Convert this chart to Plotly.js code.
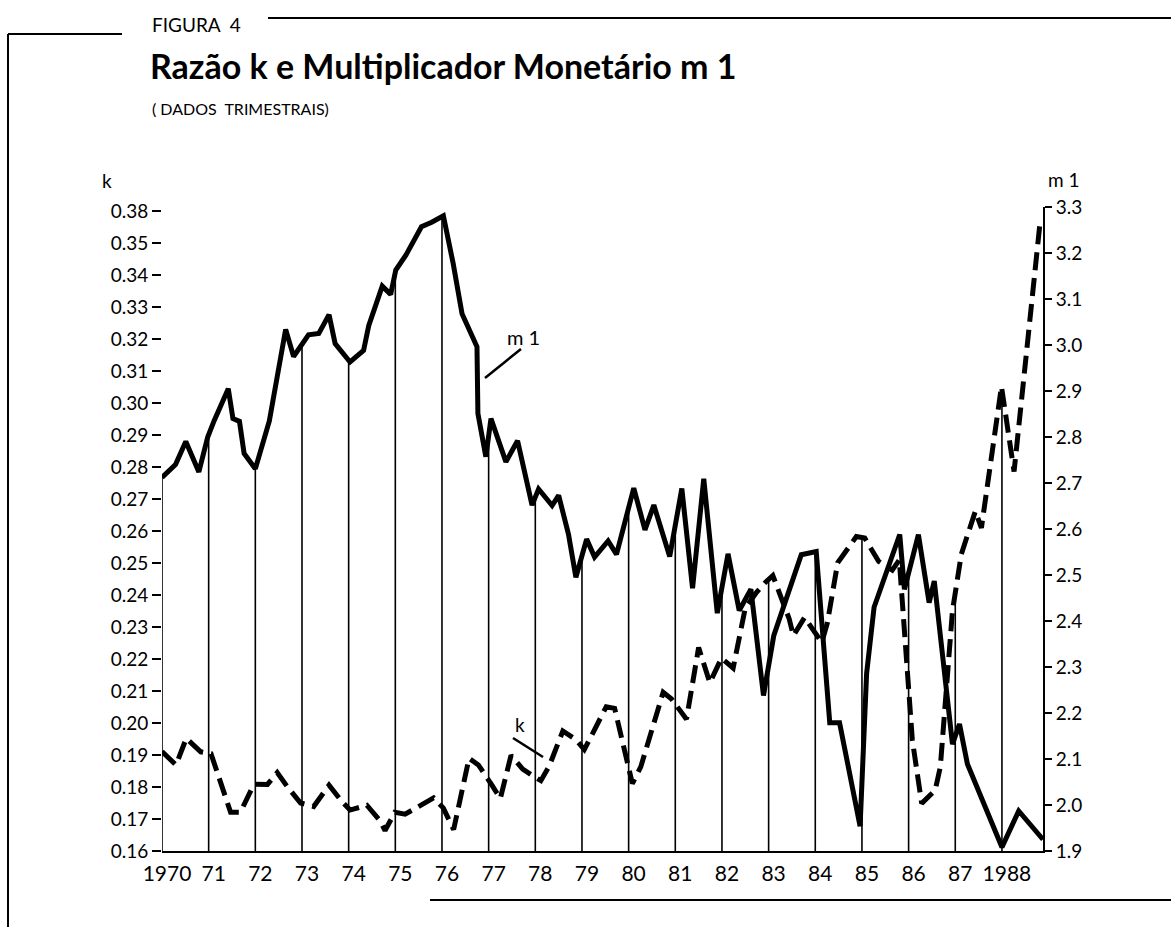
<!DOCTYPE html>
<html><head><meta charset="utf-8">
<script src="https://cdn.plot.ly/plotly-3.0.1.min.js"></script>
<style>html,body{margin:0;padding:0;background:#fff;} #chart{width:1171px;height:927px;}</style>
</head><body><div id="chart"></div>
<script>
// m1 (solid, right axis) - vertices
const m1Time=[1970.00,1970.29,1970.51,1970.79,1970.98,1971.12,1971.42,1971.52,1971.66,1971.76,1972.00,1972.30,1972.65,1972.82,1973.14,1973.36,1973.58,1973.71,1974.03,1974.32,1974.43,1974.72,1974.90,1975.01,1975.23,1975.56,1975.78,1976.03,1976.24,1976.43,1976.75,1976.77,1976.94,1977.05,1977.37,1977.62,1977.93,1978.07,1978.36,1978.50,1978.71,1978.87,1979.10,1979.27,1979.56,1979.74,1980.11,1980.35,1980.54,1980.88,1981.14,1981.37,1981.61,1981.90,1982.13,1982.37,1982.62,1982.89,1983.11,1983.70,1984.02,1984.31,1984.52,1984.96,1985.10,1985.26,1985.81,1985.91,1986.21,1986.44,1986.55,1986.94,1987.09,1987.26,1988.00,1988.36,1988.88];
const m1Value=[2.712,2.740,2.790,2.724,2.800,2.836,2.905,2.840,2.834,2.764,2.731,2.835,3.034,2.975,3.022,3.025,3.066,3.003,2.963,2.988,3.042,3.128,3.110,3.163,3.196,3.257,3.267,3.281,3.177,3.068,2.996,2.851,2.757,2.840,2.746,2.792,2.652,2.687,2.651,2.673,2.589,2.495,2.578,2.539,2.574,2.545,2.689,2.598,2.652,2.540,2.688,2.471,2.709,2.417,2.546,2.423,2.469,2.238,2.368,2.544,2.551,2.179,2.179,1.954,2.286,2.430,2.588,2.469,2.588,2.440,2.487,2.132,2.176,2.089,1.908,1.987,1.925];
// k (dashed, left axis)
const kTime=[1970.00,1970.30,1970.52,1970.83,1971.05,1971.47,1971.68,1971.97,1972.26,1972.47,1972.68,1972.97,1973.25,1973.58,1973.86,1974.03,1974.39,1974.67,1974.78,1974.99,1975.21,1975.82,1976.03,1976.25,1976.58,1976.78,1977.07,1977.25,1977.48,1977.73,1977.94,1978.12,1978.30,1978.59,1978.87,1979.05,1979.23,1979.52,1979.70,1980.08,1980.26,1980.74,1980.92,1981.24,1981.50,1981.64,1981.74,1981.99,1982.24,1982.50,1982.75,1982.94,1983.09,1983.44,1983.53,1983.77,1983.90,1984.14,1984.26,1984.48,1984.88,1985.06,1985.36,1985.65,1985.80,1985.99,1986.08,1986.28,1986.57,1986.68,1986.94,1987.13,1987.35,1987.43,1987.56,1987.99,1988.26,1988.81];
const kValue=[0.1911,0.1869,0.1952,0.1910,0.1904,0.1721,0.1721,0.1809,0.1808,0.1845,0.1802,0.1750,0.1739,0.1806,0.1754,0.1728,0.1743,0.1695,0.1664,0.1721,0.1715,0.1766,0.1734,0.1667,0.1890,0.1869,0.1806,0.1764,0.1899,0.1856,0.1836,0.1820,0.1866,0.1975,0.1948,0.1917,0.1968,0.2051,0.2046,0.1811,0.1863,0.2096,0.2075,0.2012,0.2236,0.2173,0.2126,0.2203,0.2172,0.2360,0.2410,0.2441,0.2461,0.2326,0.2273,0.2330,0.2304,0.2252,0.2314,0.2501,0.2583,0.2578,0.2505,0.2478,0.2510,0.2114,0.1947,0.1749,0.1790,0.1863,0.2351,0.2528,0.2621,0.2662,0.2610,0.3052,0.2786,0.3555];

const yearTicks=[1970,1971,1972,1973,1974,1975,1976,1977,1978,1979,1980,1981,1982,1983,1984,1985,1986,1987,1988];
const yearLabels=['1970','71','72','73','74','75','76','77','78','79','80','81','82','83','84','85','86','87','1988'];
const kTicks=[0.16,0.17,0.18,0.19,0.20,0.21,0.22,0.23,0.24,0.25,0.26,0.27,0.28,0.29,0.30,0.31,0.32,0.33,0.34,0.35,0.36];
const kTickLabels=['0.16','0.17','0.18','0.19','0.20','0.21','0.22','0.23','0.24','0.25','0.26','0.27','0.28','0.29','0.30','0.31','0.32','0.33','0.34','0.35','0.38'];
const m1Ticks=[1.9,2.0,2.1,2.2,2.3,2.4,2.5,2.6,2.7,2.8,2.9,3.0,3.1,3.2,3.3];
const m1TickLabels=['1.9','2.0','2.1','2.2','2.3','2.4','2.5','2.6','2.7','2.8','2.9','3.0','3.1','3.2','3.3'];

const W=1171,H=927,L=162,R=1043,T=207,B=851;
const kRange=[0.16,0.3613], m1Range=[1.9,3.3], xRange=[1970,1988.88];
const FONT='Lato, "Open Sans", sans-serif';

function interp(ts,vs,t){
  if(t<=ts[0])return vs[0];
  for(let i=1;i<ts.length;i++){ if(t<=ts[i]){const f=(t-ts[i-1])/(ts[i]-ts[i-1]);return vs[i-1]+f*(vs[i]-vs[i-1]);} }
  return vs[vs.length-1];
}
const px=x=>(x-L)/(R-L), py=y=>(B-y)/(B-T);

const shapes=[];
yearTicks.forEach(yr=>{
  const fm=(interp(m1Time,m1Value,yr)-m1Range[0])/(m1Range[1]-m1Range[0]);
  const fk=(interp(kTime,kValue,yr)-kRange[0])/(kRange[1]-kRange[0]);
  shapes.push({type:'line',xref:'x',yref:'paper',x0:yr,x1:yr,y0:0,y1:Math.max(fm,fk),line:{color:'#000',width:1.6}});
});
function seg(x0,y0,x1,y1,w){shapes.push({type:'line',xref:'paper',yref:'paper',x0:px(x0),y0:py(y0),x1:px(x1),y1:py(y1),line:{color:'#000',width:w}});}
// frame
seg(8,34,8,927,2); seg(8,34,122,34,2); seg(268,18,1171,18,2); seg(430,900,1171,900,2);
// pointer strokes
seg(521,349,485,378,2.5); seg(513,738,543,757,2.5);

function ann(text,x,y,size,opts){return Object.assign({text:text,xref:'paper',yref:'paper',x:px(x),y:py(y),xanchor:'left',yanchor:'middle',showarrow:false,font:{family:FONT,size:size,color:'#000'}},opts||{});}
const annotations=[
  ann('FIGURA  4',150,24,19),
  ann('<b>Razão k e Multiplicador Monetário m 1</b>',148,66,34),
  ann('( DADOS  TRIMESTRAIS)',150,108,16),
  ann('k',100,180,19),
  ann('m 1',1046,179,19),
  ann('m 1',505,337,20),
  ann('k',513,724,19)
];

const traces=[
  {x:m1Time,y:m1Value,yaxis:'y2',type:'scatter',mode:'lines',line:{color:'#000',width:5},name:'m1'},
  {x:kTime,y:kValue,yaxis:'y',type:'scatter',mode:'lines',line:{color:'#000',width:5,dash:'18px,8px'},name:'k'}
];
const layout={
  width:W,height:H,paper_bgcolor:'#fff',plot_bgcolor:'#fff',showlegend:false,
  margin:{l:L,r:W-R,t:T,b:H-B,pad:0},
  font:{family:FONT,color:'#000'},
  xaxis:{range:xRange,tickvals:yearTicks,ticktext:yearLabels,tickangle:0,showgrid:false,zeroline:false,showline:true,linecolor:'#000',linewidth:2,ticks:'',tickfont:{size:21,family:FONT},ticklabelshift:5,ticklabelstandoff:3},
  yaxis:{range:kRange,tickvals:kTicks,ticktext:kTickLabels,showgrid:false,zeroline:false,showline:false,ticks:'outside',ticklen:9,tickwidth:2,tickcolor:'#000',tickfont:{size:19,family:FONT}},
  yaxis2:{range:m1Range,overlaying:'y',side:'right',tickvals:m1Ticks,ticktext:m1TickLabels,showgrid:false,zeroline:false,showline:true,linecolor:'#000',linewidth:2,ticks:'outside',ticklen:7,tickwidth:2,tickcolor:'#000',tickfont:{size:19,family:FONT}},
  shapes:shapes,annotations:annotations
};
Plotly.newPlot('chart',traces,layout,{staticPlot:true,displayModeBar:false});
</script></body></html>
